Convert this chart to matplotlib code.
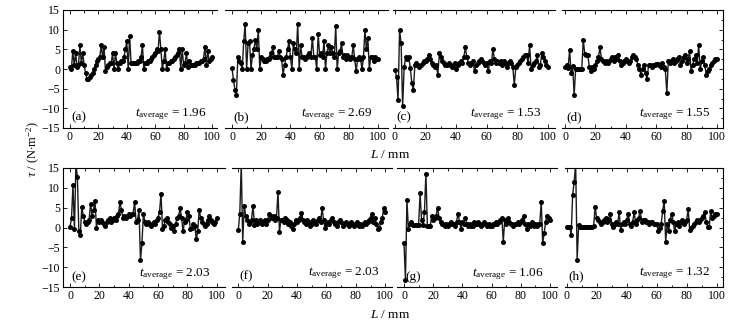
import numpy as np
import matplotlib
matplotlib.use("Agg")
import matplotlib.pyplot as plt
from matplotlib.ticker import MultipleLocator

plt.rcParams['font.family'] = ['Liberation Serif', 'DejaVu Serif']
plt.rcParams['mathtext.fontset'] = 'custom'
plt.rcParams['mathtext.rm'] = 'Liberation Serif'
plt.rcParams['mathtext.it'] = 'Liberation Serif:italic'

L = np.arange(0, 101, 1)

tau_a = [0.5, 0, 4.5, 1, 4, 0.5, 1, 6, 1.5, 4,
         1, -1, -2.5, -2.5, -2, -1.5, -1, 0, 1, 2,
         2.5, 3, 6, 3, 5.5, -0.5, 0.5, 1, 1.5, 1.5,
         4, 0, 4, 1.5, 0, 1.5, 2, 2, 3, 5,
         7, 0, 8.5, 1.5, 1.5, 1.5, 1.5, 1.5, 2, 2,
         3, 6, 0, 1.5, 1.5, 2, 2, 2.5, 3, 3.5,
         4, 5, 4.5, 9.5, 5, 0, 2, 5, 0, 1.5,
         1.5, 2, 2, 2.5, 3, 3.5, 4, 5, 0, 5,
         1, 1.5, 4, 0.5, 2, 1, 1, 1, 1, 1.5,
         1.5, 1.5, 2, 2, 2.5, 5.5, 1, 4.5, 2, 2.5,
         3]
tau_b = [0.3, -2.8, -5.3, -6.5, 3, 2, 1.5, 0, 7, 11.5,
         0, 6.5, 7, 0, 3.5, 5, 7.5, 5, 10, 0,
         3, 2.5, 2, 2, 2.5, 2.5, 3, 4, 5.5, 3,
         3, 3, 4.5, 3, 2.5, -1.5, 1, 3, 5, 7,
         3, 0, 6.5, 5, 4, 11.5, 0, 6, 3, 3,
         2.5, 3, 3.5, 4, 3, 8, 3, 3, 0, 9,
         3.5, 4, 3, 7, 0, 4, 6, 4, 5.5, 4,
         3, 11, 0, 4, 4.5, 6.5, 3, 3.5, 2.5, 3.5,
         3, 2.5, 3, 6, 2.5, -0.5, 2.5, 3, 2.5, 0,
         3, 10, 5, 8, 0, 3, 3, 2, 3, 2.5,
         2.5]
tau_c = [-0.3, -2, -8, 10, 6.5, -9.5, 0.5, 3, 2.5, 3,
         0.3, -3.5, -5.3, 1, 1.5, 1, 0.5, 1, 1.5, 2,
         2, 2.5, 3.5, 2.5, 1.5, 1, 0.5, 1, -1.5, 4,
         3, 2, 1.5, 1, 1, 1.5, 1, 0.5, 1, 1.5,
         0, 1, 1.5, 2, 1.5, 3, 5.5, 3, 1.5, 1,
         1.5, 2, -0.5, 1, 1.5, 2, 2.5, 2, 1.5, 1,
         1.5, -0.5, 2, 1.5, 5, 2.5, 1.5, 2, 1.5, 2,
         1, 2, 1.5, 0.5, 1.5, 2, 1.5, 0.5, -4, 0.5,
         1, 1.5, 2, 2.5, 3, 3.5, 3.5, 1.5, 6, 0,
         1, 1.5, 2, 3.5, 0.5, 1, 4, 3, 2, 1,
         0.5]
tau_d = [0.5, 1, 0.2, 4.8, -0.9, 0.8, -6.6, 0, 0, 0,
         0, 0, 7.4, 3.9, 3.5, 3.5, 0.5, -0.5, 0.5, 0,
         1, 2, 3, 5.5, 2.5, 2, 1.5, 2, 1.5, 2,
         2.5, 3, 2, 3, 2.5, 3.5, 2, 1, 1.5, 2,
         2.5, 2, 1.5, 2, 3, 3.5, 3, 2.5, 1, 0,
         -1.5, 0, 1, -1, -2.5, 1, 1, 0.5, 1, 1,
         1.2, 1.2, 1, 0.5, 1.5, 0.5, 0, -6, 2, 1.5,
         2, 2.5, 1.5, 2, 2.5, 3, 1, 2, 3, 3.5,
         1.5, 2.5, 4.5, -0.5, 1, 2.5, 3.5, 1.5, 6, 0,
         2, 3, 1, -1.5, -0.5, 0, 1, 1.5, 2, 2.5,
         2.5]
tau_e = [0.2, 2.3, 10.7, -0.5, 16, 12.8, -1, -2, 5.2, 3,
         1.5, 1, 1.5, 2, 6, 3, 4.5, 6.8, 0, 2,
         1.5, 2, 1.5, 1, 0.5, 1.5, 2, 2.5, 1.5, 2,
         2.5, 2, 3, 3.5, 6.4, 4.5, 2.5, 3, 2.5, 3,
         3.5, 3, 3.5, 3.5, 6.4, 1.5, 2, 4.3, -8.2, -4,
         3.5, 1.5, 1, 1.5, 1, 0.5, 1, 1.5, 1, 2,
         2.5, 4, 8.5, -0.5, 0.5, 2, 2.5, 1.5, 1, 0,
         0.5, -1, 1, 2.5, 3, 4.8, 2.5, -1, 1.5, 2,
         4, 3, -0.5, 0, 1, 0.5, -3, -1, 4.5, 2.5,
         1.5, 1, 0.5, 1, 2, 3, 2, 1.5, 1, 1.5,
         2.5]
tau_f = [-0.6, 3.5, 16, -3.6, 5.5, 3, 2, 1, 1.5, 2,
         5.5, 0.6, 2, 1, 1.5, 2, 1, 1.5, 2, 1,
         2, 3.5, 3, 2.5, 3, 2, 2.5, 9, -1.2, 2,
         2, 1.5, 2.5, 2, 1, 1.5, 0.5, -0.5, 1, 2,
         1.5, 2, 2.5, 3.7, 2, 1.5, 1, 2, 1.5, 0.5,
         1, 2, 1.5, 1, 2, 2.5, 1.5, 4.8, 2, 0,
         1, 1.5, 1, 2, 2.5, 1.5, 1, 0.5, 1.5, 2,
         1.5, 0.5, 1, 1.5, 1, 0.5, 1, 1.5, 1, 0.5,
         1, 1.5, 0.5, 1, 0.5, 1, 1.5, 1, 1.5, 2,
         2.5, 3.5, 1.5, 2.5, 1, -0.5, 0, 1.5, 2.5, 5,
         4]
tau_g = [-4, -13.2, 6.9, -0.3, 1, 1.5, 0.6, 0.6, 0.6, 0.6,
         0.6, 8.6, 2, 0.6, 3.9, 13.6, 0.5, 0.5, 0.5, 3,
         2, 2.5, 3, 5, 2.5, 1.5, 1, 1, 0.5, 1,
         0.5, 1, 1.5, 1, 1, 0.5, 1.5, 3.5, 1.5, -0.3,
         1.5, 1, 2.5, 1, 0.5, 1, 0.5, 0.5, 1.5, 1,
         1, 1.5, 1, 0.5, 1, 1.5, 1, 0.5, 1, 0.5,
         0.5, 1, 1, 1.5, 1, 1.5, 2, 2.5, -3.6, 2,
         1, 2.5, 1.5, 1, 1, 0.5, 1, 1, 1.5, 1,
         1.5, 2, 2.8, 1, -0.3, 1, 0.5, 1, 1.5, 0.5,
         1, 0.5, 1, 1, 6.5, -4, -1.5, 1.5, 3, 2.5,
         2]
tau_h = [0.2, 0.2, 0.2, -1.8, 8.2, 11.5, 16, -8.2, 0.6, 0.2,
         0.2, 0.2, 0.2, 0.2, 0.2, 0.2, 0.2, 0.2, 0.5, 5.2,
         2.3, 2, 1.5, 1, 1.5, 2, 2.5, 1.5, 2, 3.5,
         1, 0.2, 1, 1.5, 1, 3.8, -0.6, 1, 1.5, 1,
         2, 3.5, 1, 0.5, 1.5, 3.8, 1, 2, 2.5, 4.2,
         1.5, 2, 2, 1.5, 1.5, 1, 1.5, 1.5, 1, 1,
         1, -1, 0, 1, 4.2, 6.7, -3.6, 1, -1, 2,
         3.5, 1.5, -1, 1, 1.5, 0.5, 1.5, 2, 1, 1.5,
         2, 4.6, -0.6, 0, 0.5, 1, 1.5, 2, 1.5, 2,
         2.5, 3, 3.8, 1.5, 0.2, 0.2, 4.2, 2.3, 3, 3.3,
         3.3]

panel_labels = ['(a)', '(b)', '(c)', '(d)', '(e)', '(f)', '(g)', '(h)']
t_average = ['1.96', '2.69', '1.53', '1.55', '2.03', '2.03', '1.06', '1.32']
series = [tau_a, tau_b, tau_c, tau_d, tau_e, tau_f, tau_g, tau_h]
y_ticks = [-15, -10, -5, 0, 5, 10, 15]
x_ticks = [0, 20, 40, 60, 80, 100]

W, H = 745, 327
fig = plt.figure(figsize=(W / 100, H / 100), dpi=100)

cols_px = [[(63, 217), (225, 388), (393, 555), (562, 723)],
           [(63, 225), (232, 392), (397, 557), (565, 723)]]
rows_px = [(10, 128), (168, 287)]
xlims = [(-4.9, 103.5), (-4.8, 106.8), (-1.3, 104.6), (-2, 104),
         (-4.8, 105.6), (-4.3, 104.6), (-4.8, 104.8), (-1.1, 104.2)]
lab_y = [-12.3, -12.3, -12.3, -12.3, -12.6, -12.4, -12.6, -12.4]

fs = 8.5
k = 0
for r in range(2):
    top, bot = rows_px[r]
    for c in range(4):
        x0, x1 = cols_px[r][c]
        ax = fig.add_axes([x0 / W, 1 - bot / H, (x1 - x0) / W, (bot - top) / H])
        ax.plot(L, series[k], '-', color='#1a1a1a', lw=1.0,
                marker='o', ms=3.6, mfc='black', mec='black', mew=0)
        ax.set_xlim(*xlims[k])
        ax.set_ylim(-15, 15)
        ax.set_xticks(x_ticks)
        ax.xaxis.set_minor_locator(MultipleLocator(10))
        ax.tick_params(axis='x', which='both', direction='in', top=True,
                       labelsize=fs, pad=2, width=0.6)
        ax.tick_params(axis='x', which='major', length=3)
        ax.tick_params(axis='x', which='minor', length=1.8)
        ax.spines['top'].set_linewidth(0.8)
        ax.spines['bottom'].set_linewidth(0.8)
        if c == 0:
            ax.set_yticks(y_ticks)
            ax.tick_params(axis='y', direction='in', left=True, right=False,
                           labelsize=fs, pad=2, length=3, width=0.6)
            ax.spines['left'].set_linewidth(0.8)
            ax.spines['right'].set_visible(False)
        elif c == 3:
            ax.spines['left'].set_visible(False)
            ax.spines['right'].set_linewidth(0.8)
            ax.set_yticks(y_ticks)
            ax.yaxis.set_minor_locator(MultipleLocator(2.5))
            ax.tick_params(axis='y', which='both', direction='in', left=False,
                           right=True, labelleft=False, width=0.6)
            ax.tick_params(axis='y', which='major', length=3)
            ax.tick_params(axis='y', which='minor', length=1.8)
        else:
            ax.spines['left'].set_visible(False)
            ax.spines['right'].set_visible(False)
            ax.set_yticks([])
        ax.text(1, lab_y[k], panel_labels[k], fontsize=9.5, ha='left', va='center')
        ax.text(96, lab_y[k] + 0.8, r'$t_{\mathrm{average}}$' + ' = ' + t_average[k],
                fontsize=9.5, ha='right', va='center')
        k += 1

fig.text(390 / W, 1 - 155 / H, r'$L$ / mm', fontsize=9.5, ha='center', va='center')
fig.text(390 / W, 1 - 315 / H, r'$L$ / mm', fontsize=9.5, ha='center', va='center')
fig.text(33 / W, 1 - 149 / H, r'$\tau$ / (N$\cdot$m$^{-2}$)', fontsize=9,
         ha='center', va='center', rotation=90)

fig.savefig('out.png', dpi=100)
